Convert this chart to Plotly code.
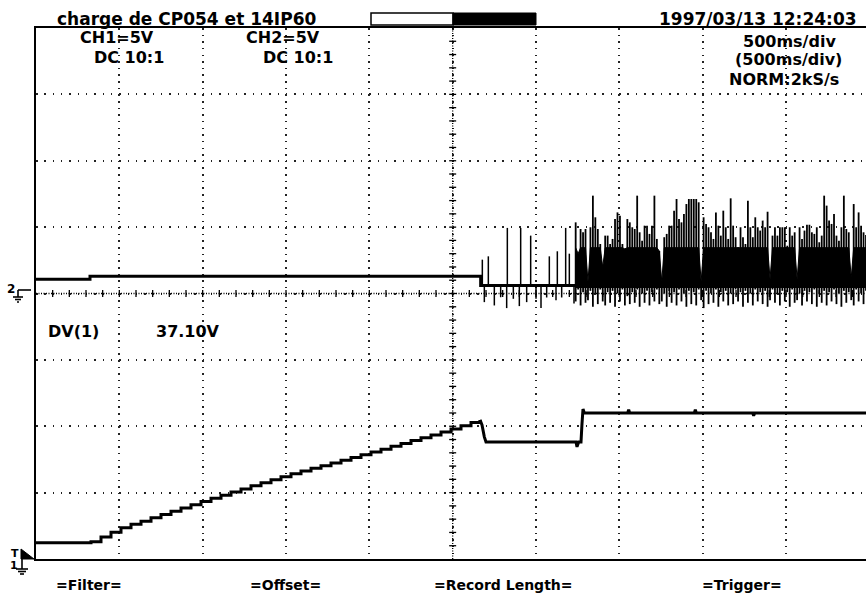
import plotly.graph_objects as go

# ---------------- data read from the screen capture ----------------
# time base 500 ms/div (10 div), CH1 and CH2 at 5 V/div
CH1_START_V = 1.23                       # level before the charge starts
RAMP_T0, RAMP_DT = 0.33, 0.06             # staircase instants of the ramp (s)
CH1_RAMP_V = [1.30, 1.66, 2.02, 2.36, 2.61, 2.85, 3.10, 3.35, 3.60, 3.84,
              4.09, 4.34, 4.57, 4.81, 5.04, 5.27, 5.51, 5.74, 5.97, 6.20,
              6.42, 6.63, 6.83, 7.03, 7.24, 7.44, 7.65, 7.85, 8.06, 8.27,
              8.49, 8.70, 8.92, 9.14, 9.35, 9.57, 9.79, 10.03, 10.28]
CH1_TAIL_T = [2.664, 2.676, 2.690, 2.700, 3.240, 3.246, 3.256, 3.270, 3.276,
              3.282, 3.290, 3.550, 3.556, 3.562, 3.950, 3.956, 3.962, 4.300,
              4.306, 4.312, 4.980]
CH1_TAIL_V = [10.48, 10.10, 9.20, 8.82, 8.82, 8.45, 8.82, 8.82, 10.20,
              11.30, 11.00, 11.00, 11.25, 11.00, 11.00, 11.25, 11.00, 11.00,
              10.80, 11.00, 11.00]

CH2_BASE_T = [0.0, 0.324, 0.324, 2.668, 2.668, 3.238]
CH2_BASE_V = [1.08, 1.08, 1.30, 1.30, 0.60, 0.60]
CH2_SPIKE_BASE = 0.60
CH2_SPIKE_T = [2.678, 2.690, 2.714, 2.750, 2.788, 2.824, 2.828, 2.864, 2.900,
               2.908, 2.944, 2.968, 3.000, 3.030, 3.064, 3.080, 3.120, 3.128,
               3.154, 3.178, 3.200, 3.228]
CH2_SPIKE_V = [2.55, -0.65, 2.80, -0.90, -0.28, -1.10, 4.94, -0.40, -0.95,
               4.94, -0.65, 4.36, -0.40, -1.10, -0.30, 2.80, -0.50, 3.18,
               -0.30, 4.94, 3.00, -0.75]

CH2_BURST_T0, CH2_BURST_T1 = 3.238, 4.98
CH2_CORE_TOP, CH2_CORE_BOTTOM = 3.45, 0.45     # solid part of the burst
CH2_BURST_HI = [5.36, 3.0, 4.86, 4.61, 4.86, 0.9, 4.99, 7.37, 5.74, 4.86,
                3.73, 2.0, 4.36, 4.36, 3.73, 4.11, 5.61, 6.11, 5.86, 3.73,
                3.36, 5.61, 5.36, 4.99, 4.86, 7.37, 4.61, 3.98, 5.11, 5.11,
                4.49, 5.11, 7.37, 4.11, 3.2, 0.9, 4.24, 4.49, 5.11, 5.11,
                6.24, 7.12, 5.61, 5.36, 5.99, 6.74, 7.12, 7.12, 7.12, 7.12,
                6.87, 0.9, 5.74, 5.24, 4.99, 4.61, 4.11, 6.11, 5.11, 4.36,
                6.24, 4.99, 4.11, 7.17, 5.11, 4.24, 3.49, 4.99, 4.24, 3.73,
                6.99, 4.99, 4.24, 5.74, 4.99, 4.74, 5.49, 4.99, 6.16, 1.1,
                4.36, 4.99, 4.36, 4.99, 4.99, 4.99, 3.6, 4.99, 4.36, 4.61,
                1.1, 4.99, 4.11, 4.74, 5.18, 5.18, 4.61, 4.49, 4.99, 3.86,
                4.36, 7.37, 6.62, 5.49, 5.24, 5.99, 4.36, 3.98, 4.99, 7.37,
                4.86, 4.61, 1.2, 6.74, 4.99, 6.11, 5.11, 4.61, 4.4]
CH2_BURST_LO = [-0.6, 0.3, -0.9, 0.1, -0.7, -0.5, 0.2, -1.0, 0.0, -0.8,
                0.3, -0.6, -0.9, 0.1, -0.7, 0.2, -1.0, 0.0, -0.6, 0.3,
                -0.9, -0.2, -0.8, 0.1, -0.7, 0.3, -1.0, 0.0, -0.7, 0.2,
                -0.9, 0.1, -0.6, 0.3, -0.8, -0.6, 0.0, -1.0, 0.2, -0.7,
                0.1, -0.9, 0.3, -0.6, 0.0, -1.0, 0.2, -0.8, 0.1, -0.9,
                0.3, -0.5, -1.1, 0.2, -0.8, 0.0, -0.7, 0.3, -1.0, 0.1,
                -0.6, 0.2, -0.9, 0.0, -0.8, 0.3, -0.6, 0.1, -1.0, 0.2,
                -0.7, 0.0, -0.9, 0.3, -0.6, 0.1, -0.8, 0.2, -1.0, -0.5,
                0.3, -0.7, 0.0, -0.9, 0.2, -0.6, 0.1, -1.0, 0.3, -0.7,
                -0.5, 0.0, -0.9, 0.2, -0.6, 0.1, -0.8, 0.3, -1.0, 0.0,
                -0.7, 0.2, -0.9, 0.1, -0.6, 0.3, -0.8, 0.0, -1.0, 0.2,
                -0.7, 0.1, -0.5, -0.9, 0.3, -0.6, 0.0, -0.8, 0.2]

TITLE = "charge de CP054 et 14IP60"
DATE = "1997/03/13 12:24:03"
CH_LABELS = ["CH1=5V", "DC 10:1", "CH2=5V", "DC 10:1"]
TB_LABELS = ["500ms/div", "(500ms/div)", "NORM:2kS/s"]
CURSOR_LABELS = ["DV(1)", "37.10V"]
MENU_LABELS = ["=Filter=", "=Offset=", "=Record Length=", "=Trigger="]

# ---------------- layout geometry ----------------
W, H = 866, 595
ML, MR, MT, MB = 36, 0, 28, 36
PW, PH = W - ML - MR, H - MT - MB
X_RANGE = [0, 4.98]
Y1_RANGE = [0, 40]
Y2_RANGE = [-20, 20]


def px(x):
    return (x - ML) / PW


def py(y):
    return (H - MB - y) / PH


BLACK = "#000000"
FONT = "DejaVu Sans"

# ---------------- traces ----------------
ramp_t = [round(RAMP_T0 + i * RAMP_DT, 3) for i in range(len(CH1_RAMP_V))]

fig = go.Figure()
fig.add_trace(go.Scatter(
    x=[0.0] + ramp_t + [CH1_TAIL_T[0]],
    y=[CH1_START_V] + CH1_RAMP_V + [CH1_TAIL_V[0]],
    mode="lines", line=dict(color=BLACK, width=3, shape="hv"),
    showlegend=False, hoverinfo="skip"))
fig.add_trace(go.Scatter(
    x=CH1_TAIL_T, y=CH1_TAIL_V, mode="lines",
    line=dict(color=BLACK, width=3), showlegend=False, hoverinfo="skip"))

fig.add_trace(go.Scatter(
    x=CH2_BASE_T, y=CH2_BASE_V, mode="lines", yaxis="y2",
    line=dict(color=BLACK, width=3), showlegend=False, hoverinfo="skip"))

sx, sy = [], []
for t, v in zip(CH2_SPIKE_T, CH2_SPIKE_V):
    sx += [t, t, None]
    sy += [CH2_SPIKE_BASE, v, None]
fig.add_trace(go.Scatter(
    x=sx, y=sy, mode="lines", yaxis="y2",
    line=dict(color=BLACK, width=1.5), showlegend=False, hoverinfo="skip"))

# burst: solid core (follows the sample tops where they dip) + one stroke per sample
n = len(CH2_BURST_HI)
step = (CH2_BURST_T1 - CH2_BURST_T0) / (n - 1)
bt = [CH2_BURST_T0 + i * step for i in range(n)]
core_top = [min(h, CH2_CORE_TOP) for h in CH2_BURST_HI]
fig.add_trace(go.Scatter(
    x=bt + bt[::-1], y=core_top + [CH2_CORE_BOTTOM] * n, yaxis="y2",
    mode="lines", fill="toself", fillcolor=BLACK,
    line=dict(color=BLACK, width=1), showlegend=False, hoverinfo="skip"))
bx, by = [], []
for t, hi, lo in zip(bt, CH2_BURST_HI, CH2_BURST_LO):
    bx += [t, t, None]
    by += [lo, hi, None]
fig.add_trace(go.Scatter(
    x=bx, y=by, mode="lines", yaxis="y2",
    line=dict(color=BLACK, width=1.8), showlegend=False, hoverinfo="skip"))

# ---------------- graticule ----------------
shapes = []
shapes.append(dict(type="line", xref="x", yref="y", x0=2.5, x1=2.5, y0=0, y1=40,
                   line=dict(color=BLACK, width=1.3, dash="1px,1.5px")))
shapes.append(dict(type="line", xref="x", yref="y", x0=0, x1=X_RANGE[1], y0=20, y1=20,
                   line=dict(color=BLACK, width=1.3, dash="1px,1.5px")))
for k in range(1, 40):
    shapes.append(dict(type="line", xref="x", yref="y", x0=2.479, x1=2.521,
                       y0=k, y1=k, line=dict(color=BLACK, width=1.3)))
for k in range(1, 50):
    shapes.append(dict(type="line", xref="x", yref="y", x0=k * 0.1, x1=k * 0.1,
                       y0=19.74, y1=20.26, line=dict(color=BLACK, width=1.3)))

# record-position bar in the title line
shapes.append(dict(type="rect", xref="paper", yref="paper",
                   x0=px(371), x1=px(453), y0=py(25), y1=py(13),
                   line=dict(color=BLACK, width=1.5), fillcolor="white"))
shapes.append(dict(type="rect", xref="paper", yref="paper",
                   x0=px(453), x1=px(536), y0=py(25), y1=py(13),
                   line=dict(color=BLACK, width=1), fillcolor=BLACK))


def seg(x0, y0, x1, y1, w=1.6):
    shapes.append(dict(type="line", xref="paper", yref="paper",
                       x0=px(x0), y0=py(y0), x1=px(x1), y1=py(y1),
                       line=dict(color=BLACK, width=w)))


# CH2 ground marker
seg(18, 290, 31, 290)
seg(18, 290, 18, 297)
seg(13, 297, 23, 297)
seg(15, 299.5, 21, 299.5)
seg(17, 302, 19, 302)
# CH1 ground / trigger marker
shapes.append(dict(type="path", xref="paper", yref="paper",
                   path="M {} {} L {} {} L {} {} Z".format(px(21), py(549), px(34), py(559),
                                                          px(21), py(559)),
                   fillcolor=BLACK, line=dict(color=BLACK, width=1)))
seg(22, 559, 22, 569)
seg(16, 569, 28, 569)
seg(18, 571.5, 26, 571.5)
seg(20, 574, 24, 574)

# ---------------- text ----------------
ann = []


def label(text, x, y, size=16, anchor="center"):
    ann.append(dict(text=text, xref="paper", yref="paper", x=px(x), y=py(y),
                    xanchor=anchor, yanchor="middle", showarrow=False,
                    font=dict(family=FONT, size=size, color=BLACK, weight="bold")))


label(TITLE, 186, 19, size=17)
label(DATE, 758, 19, size=17)
label(CH_LABELS[0], 117, 38)
label(CH_LABELS[1], 129, 57)
label(CH_LABELS[2], 283, 38)
label(CH_LABELS[3], 298, 57)
label(TB_LABELS[0], 789, 41)
label(TB_LABELS[1], 788, 60)
label(TB_LABELS[2], 784, 79)
label(CURSOR_LABELS[0], 73, 331)
label(CURSOR_LABELS[1], 188, 331)
label(MENU_LABELS[0], 89, 585, size=14)
label(MENU_LABELS[1], 285, 585, size=14)
label(MENU_LABELS[2], 503, 585, size=14)
label(MENU_LABELS[3], 742, 585, size=14)
label("2", 11, 289, size=12)
label("T", 15, 553, size=11)
label("1", 14, 565, size=11)

fig.update_layout(
    width=W, height=H,
    margin=dict(l=ML, r=MR, t=MT, b=MB, pad=0),
    paper_bgcolor="white", plot_bgcolor="white",
    showlegend=False,
    xaxis=dict(range=X_RANGE, dtick=0.5, tick0=0, showgrid=True,
               gridcolor="#222", gridwidth=1.5, griddash="1.5px,5.14px",
               showticklabels=False, ticks="", zeroline=False,
               showline=True, linecolor=BLACK, linewidth=2, mirror=True),
    yaxis=dict(range=Y1_RANGE, dtick=5, tick0=0, showgrid=True,
               gridcolor="#222", gridwidth=1.5, griddash="1.5px,6.83px",
               showticklabels=False, ticks="", zeroline=False,
               showline=True, linecolor=BLACK, linewidth=2),
    yaxis2=dict(range=Y2_RANGE, overlaying="y", showgrid=False,
                showticklabels=False, ticks="", zeroline=False, showline=False),
    shapes=shapes, annotations=ann,
)

fig.write_html("out.html")
